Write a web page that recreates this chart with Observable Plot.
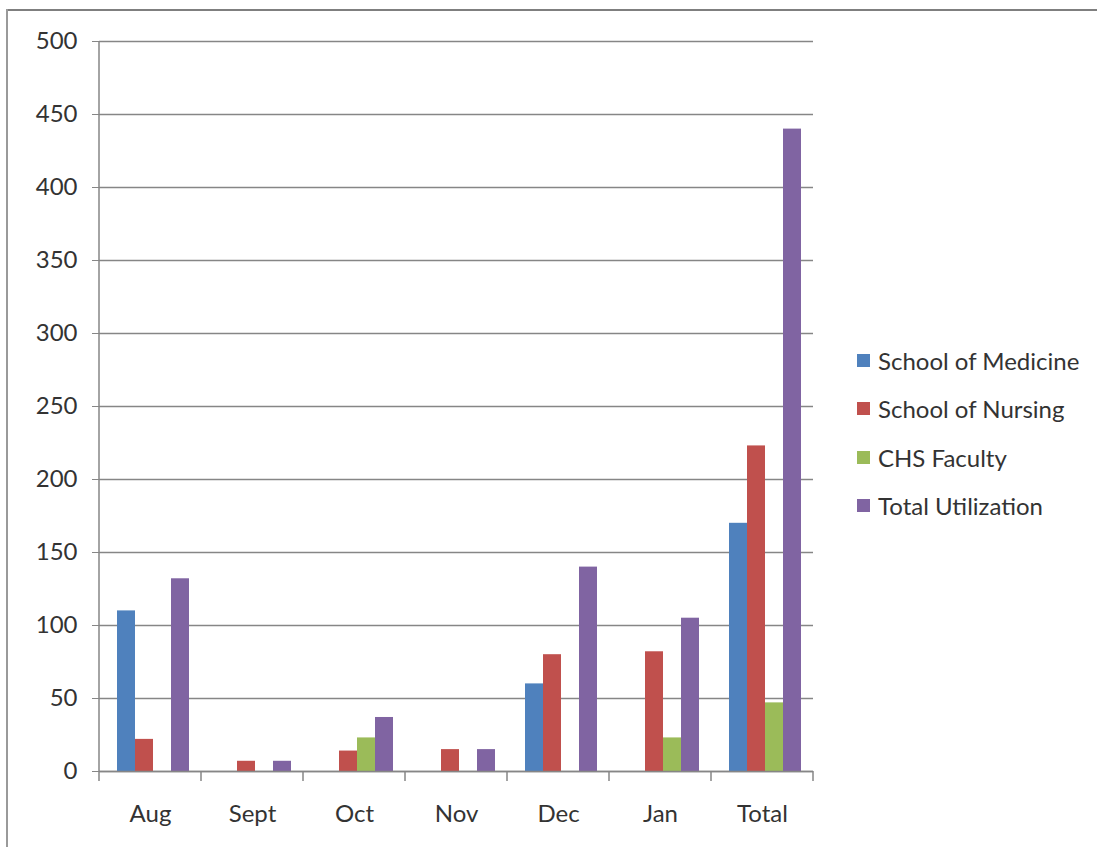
<!DOCTYPE html>
<html>
<head>
<meta charset="utf-8">
<script src="https://cdn.jsdelivr.net/npm/d3@7"></script>
<script src="https://cdn.jsdelivr.net/npm/@observablehq/plot@0.6"></script>
<style>
  html, body { margin: 0; padding: 0; background: #fff; }
  #wrap { position: relative; width: 1097px; height: 847px; overflow: hidden; font-family: Lato, sans-serif; }
  #chart { position: absolute; left: 0; top: 0; }
  #topline { position: absolute; left: 6px; top: 9px; width: 1091px; height: 0; border-top: 2px solid #7f7f7f; }
  #leftline { position: absolute; left: 6px; top: 9px; width: 0; height: 838px; border-left: 2px solid #9a9a9a; }
  #legend { position: absolute; left: 857px; top: 336px; }
  .row { display: flex; align-items: center; height: 48.5px; font-size: 24px; color: #333; white-space: nowrap; }
  .sw { width: 13px; height: 13px; margin-right: 8px; }
</style>
</head>
<body>
<div id="wrap">
  <div id="chart"></div>
  <div id="topline"></div>
  <div id="leftline"></div>
  <div id="legend"></div>
</div>
<script>
const months = ["Aug", "Sept", "Oct", "Nov", "Dec", "Jan", "Total"];
const series = ["School of Medicine", "School of Nursing", "CHS Faculty", "Total Utilization"];
const medicine = [110, null, null, null, 60, null, 170];
const nursing = [22, 7, 14, 15, 80, 82, 223];
const chsFaculty = [null, null, 23, null, null, 23, 47];
const totalUtil = [132, 7, 37, 15, 140, 105, 440];
const yTicks = [0, 50, 100, 150, 200, 250, 300, 350, 400, 450, 500];
const colors = ["#4F81BD", "#C0504D", "#9BBB59", "#8064A2"];

const seriesValues = [medicine, nursing, chsFaculty, totalUtil];
const data = [];
months.forEach((m, i) => {
  series.forEach((s, j) => {
    const v = seriesValues[j][i];
    if (v != null) data.push({month: m, series: s, value: v});
  });
});

const axisColor = "#868686";

const chart = Plot.plot({
  width: 1097,
  height: 847,
  marginLeft: 99,
  marginRight: 284,
  marginTop: 41,
  marginBottom: 76,
  style: {fontFamily: "Lato, sans-serif", fontSize: "24px", color: "#333", background: "transparent"},
  fx: {domain: months, padding: 0, label: null},
  x: {domain: series, paddingInner: 0, paddingOuter: 0.78, align: 0.6, axis: null},
  y: {domain: [0, 500], label: null},
  color: {domain: series, range: colors},
  marks: [
    Plot.ruleY(yTicks, {stroke: axisColor, strokeWidth: 1.5}),
    Plot.axisY({ticks: yTicks, tickSize: 7, tickPadding: 15, stroke: axisColor, fill: "#333", fontSize: 24, label: null}),
    Plot.axisFx({anchor: "bottom", tickSize: 0, tickPadding: 33, fill: "#333", fontSize: 24, label: null}),
    Plot.barY(data, {fx: "month", x: "series", y: "value", fill: "series"}),
    Plot.ruleY([0], {stroke: axisColor, strokeWidth: 1.5})
  ]
});

document.getElementById("chart").appendChild(chart);

// Axis line and category boundary ticks, positioned through Plot's own scales
const fx = chart.scale("fx");
const ys = chart.scale("y");
const svg = d3.select(chart);
const g = svg.append("g").attr("stroke", axisColor).attr("stroke-width", 1.5);
const x0 = fx.apply(months[0]);
g.append("line").attr("x1", x0).attr("x2", x0).attr("y1", ys.apply(500)).attr("y2", ys.apply(0));
const bounds = months.map(m => fx.apply(m)).concat([fx.apply(months[months.length - 1]) + fx.bandwidth]);
bounds.forEach(b => {
  g.append("line").attr("x1", b).attr("x2", b).attr("y1", ys.apply(0)).attr("y2", ys.apply(0) + 10);
});

// Legend
const legend = d3.select("#legend");
series.forEach((s, i) => {
  const row = legend.append("div").attr("class", "row");
  row.append("div").attr("class", "sw").style("background", colors[i]);
  row.append("span").text(s);
});
</script>
</body>
</html>
